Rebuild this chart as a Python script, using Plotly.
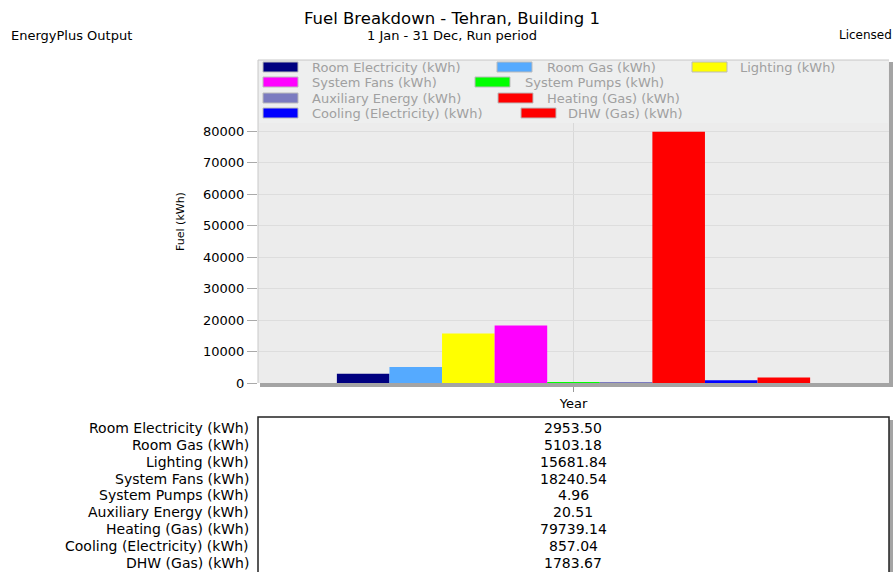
import plotly.graph_objects as go

# ---- data ----
series_names = [
    "Room Electricity (kWh)", "Room Gas (kWh)", "Lighting (kWh)",
    "System Fans (kWh)", "System Pumps (kWh)", "Auxiliary Energy (kWh)",
    "Heating (Gas) (kWh)", "Cooling (Electricity) (kWh)", "DHW (Gas) (kWh)",
]
series_values = [2953.50, 5103.18, 15681.84, 18240.54, 4.96, 20.51, 79739.14, 857.04, 1783.67]
series_colors = ["#000080", "#55aaff", "#ffff00", "#ff00ff", "#00ff00",
                 "#7b7bc0", "#ff0000", "#0000ff", "#ff0000"]
category = ["Year"]
y_ticks = [0, 10000, 20000, 30000, 40000, 50000, 60000, 70000, 80000]

FONT = "DejaVu Sans"
W_FIG, H_FIG = 895, 572
L, R, T, B = 258, 889, 60, 383
PW, PH = R - L, B - T


def X(px):
    return (px - L) / PW


def Y(py):
    return (B - py) / PH


fig = go.Figure()
for name, val, col in zip(series_names, series_values, series_colors):
    fig.add_trace(go.Bar(name=name, x=category, y=[val],
                         marker=dict(color=col, line=dict(width=0))))

shapes = []
annotations = []

# panel shadow (right & bottom)
shapes.append(dict(type="rect", xref="paper", yref="paper",
                   x0=X(889), x1=X(893), y0=Y(387), y1=Y(62),
                   fillcolor="#a4a4a4", line=dict(width=0), layer="above"))
shapes.append(dict(type="rect", xref="paper", yref="paper",
                   x0=X(260), x1=X(893), y0=Y(387), y1=Y(383),
                   fillcolor="#a4a4a4", line=dict(width=0), layer="above"))
# panel top/left light border
shapes.append(dict(type="line", xref="paper", yref="paper",
                   x0=X(258), x1=X(889), y0=Y(60), y1=Y(60),
                   line=dict(color="#c8c8c8", width=1), layer="above"))
shapes.append(dict(type="line", xref="paper", yref="paper",
                   x0=X(258), x1=X(258), y0=Y(60), y1=Y(383),
                   line=dict(color="#c8c8c8", width=1), layer="above"))

# legend background
shapes.append(dict(type="rect", xref="paper", yref="paper",
                   x0=X(259), x1=X(888), y0=Y(123), y1=Y(61),
                   fillcolor="#eeefef", line=dict(width=0), layer="above"))

# legend layout (swatch left px, text left px, row center py)
legend_pos = [
    (263, 310, 67), (497, 545, 67), (692, 738, 67),
    (263, 310, 82), (475, 523, 82),
    (263, 310, 98), (498, 545, 98),
    (263, 310, 113), (521, 566, 113),
]
for (sx, tx, cy), name, col in zip(legend_pos, series_names, series_colors):
    shapes.append(dict(type="rect", xref="paper", yref="paper",
                       x0=X(sx), x1=X(sx + 35), y0=Y(cy + 5), y1=Y(cy - 5),
                       fillcolor=col, line=dict(color="#bbbbbb", width=1),
                       layer="above"))
    annotations.append(dict(xref="paper", yref="paper", x=X(tx), y=Y(cy),
                            text=name, showarrow=False, xanchor="left",
                            yanchor="middle",
                            font=dict(family=FONT, size=13, color="#a0a0a0")))

# titles
annotations.append(dict(xref="paper", yref="paper", x=X(452), y=Y(18),
                        text="Fuel Breakdown - Tehran, Building 1", showarrow=False,
                        xanchor="center", yanchor="middle",
                        font=dict(family=FONT, size=16.5, color="black")))
annotations.append(dict(xref="paper", yref="paper", x=X(452), y=Y(35),
                        text="1 Jan - 31 Dec, Run period", showarrow=False,
                        xanchor="center", yanchor="middle",
                        font=dict(family=FONT, size=13, color="black")))
annotations.append(dict(xref="paper", yref="paper", x=X(9), y=Y(35),
                        text="EnergyPlus Output", showarrow=False,
                        xanchor="left", yanchor="middle",
                        font=dict(family=FONT, size=13, color="black")))
annotations.append(dict(xref="paper", yref="paper", x=X(894), y=Y(35),
                        text="Licensed", showarrow=False,
                        xanchor="right", yanchor="middle",
                        font=dict(family=FONT, size=12, color="black")))

# table box
shapes.append(dict(type="rect", xref="paper", yref="paper",
                   x0=X(889), x1=X(893), y0=Y(600), y1=Y(420),
                   fillcolor="#a4a4a4", line=dict(width=0), layer="above"))
shapes.append(dict(type="rect", xref="paper", yref="paper",
                   x0=X(258), x1=X(889), y0=Y(600), y1=Y(417),
                   fillcolor="white", line=dict(color="#222222", width=1.5),
                   layer="above"))
for i, (name, val) in enumerate(zip(series_names, series_values)):
    cy = 428 + i * 16.85
    annotations.append(dict(xref="paper", yref="paper", x=X(251), y=Y(cy),
                            text=name, showarrow=False, xanchor="right",
                            yanchor="middle",
                            font=dict(family=FONT, size=14, color="black")))
    annotations.append(dict(xref="paper", yref="paper", x=X(573), y=Y(cy),
                            text=f"{val:.2f}", showarrow=False, xanchor="center",
                            yanchor="middle",
                            font=dict(family=FONT, size=14, color="black")))

fig.update_layout(
    width=W_FIG, height=H_FIG,
    margin=dict(l=L, r=W_FIG - R, t=T, b=H_FIG - B, pad=0),
    paper_bgcolor="white", plot_bgcolor="#ececec",
    barmode="group", bargap=0.25, bargroupgap=0,
    showlegend=False,
    font=dict(family=FONT, size=12, color="black"),
    shapes=shapes, annotations=annotations,
    xaxis=dict(type="category", showgrid=True, gridcolor="#d8d8d8",
               ticks="outside", ticklen=8, tickcolor="#999999",
               tickfont=dict(family=FONT, size=13, color="black"),
               showline=False, zeroline=False, fixedrange=True),
    yaxis=dict(range=[0, (B - T) / 31.5 * 10000], tickvals=y_ticks,
               ticktext=[str(v) for v in y_ticks],
               showgrid=True, gridcolor="#dddddd", zeroline=False,
               ticks="outside", ticklen=10, tickcolor="#aaaaaa",
               tickfont=dict(family=FONT, size=13, color="black"),
               title=dict(text="Fuel (kWh)", standoff=16,
                          font=dict(family=FONT, size=11, color="black")),
               showline=False, fixedrange=True),
)

fig.write_html(
    "out.html",
    config={"displayModeBar": False},
    post_script="document.body.style.margin='0';document.body.style.overflow='hidden';",
)
